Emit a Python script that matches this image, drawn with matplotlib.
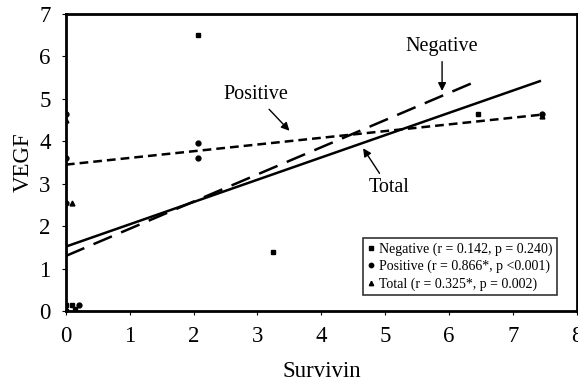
import matplotlib
matplotlib.use("Agg")
import matplotlib.pyplot as plt
import numpy as np

plt.rcParams['font.family'] = ['Liberation Serif', 'DejaVu Serif']

# Data points (Survivin, VEGF)
neg_x = [0.0, 0.0, 0.1, 0.15, 2.07, 3.25, 6.45]
neg_y = [0.0, 0.15, 0.15, 0.05, 6.5, 1.4, 4.65]
pos_x = [0.0, 0.0, 0.0, 0.2, 2.07, 2.07, 7.45]
pos_y = [3.6, 4.65, 2.55, 0.15, 3.95, 3.6, 4.65]
tot_x = [0.0, 0.0, 0.1, 0.15, 7.45]
tot_y = [0.05, 4.5, 2.55, 0.0, 4.6]

# Regression lines: intercept, slope, x-range
line_names = ["Negative", "Positive", "Total"]
intercepts = [1.30, 3.45, 1.52]
slopes = [0.64, 0.158, 0.525]
x_end = [6.4, 7.45, 7.42]
line_styles = [(0, (8, 4)), (0, (3.5, 2)), '-']

legend_labels = ["Negative (r = 0.142, p = 0.240)",
                 "Positive (r = 0.866*, p <0.001)",
                 "Total (r = 0.325*, p = 0.002)"]

fig = plt.figure(figsize=(5.78, 3.86), dpi=100)
ax = fig.add_axes([0.114, 0.194, 0.884, 0.770])

ax.plot(neg_x, neg_y, 's', color='black', ms=3, label=legend_labels[0])
ax.plot(pos_x, pos_y, 'o', color='black', ms=3.5, label=legend_labels[1])
ax.plot(tot_x, tot_y, '^', color='black', ms=3.5, label=legend_labels[2])

for b, m, xe, ls in zip(intercepts, slopes, x_end, line_styles):
    xs = np.array([0.0, xe])
    ax.plot(xs, b + m * xs, color='black', lw=1.8, linestyle=ls)

ap = dict(arrowstyle='-|>', color='black', lw=1.0, mutation_scale=12)
ax.annotate("Negative", xy=(5.89, 5.12), xytext=(5.89, 6.23),
            ha='center', va='center', fontsize=14.5, arrowprops=ap)
ax.annotate("Positive", xy=(3.53, 4.20), xytext=(2.97, 5.09),
            ha='center', va='center', fontsize=14.5, arrowprops=ap)
ax.annotate("Total", xy=(4.63, 3.89), xytext=(5.06, 2.90),
            ha='center', va='center', fontsize=14.5, arrowprops=ap)

ax.set_xlim(0, 8)
ax.set_ylim(0, 7)
ax.set_xticks(range(0, 9))
ax.set_yticks(range(0, 8))
ax.tick_params(labelsize=16.5, length=3, width=0.8, direction='out', pad=8)
ax.set_xlabel("Survivin", fontsize=16.5, labelpad=10)
ax.set_ylabel("VEGF", fontsize=16.5, labelpad=4)
for s in ax.spines.values():
    s.set_linewidth(2)

leg = ax.legend(loc='lower right', fontsize=10, frameon=True, fancybox=False,
                edgecolor='black', handlelength=0.6, handletextpad=0.3,
                borderpad=0.3, labelspacing=0.3, markerscale=0.9,
                bbox_to_anchor=(0.975, 0.03))
leg.get_frame().set_linewidth(1.2)

fig.savefig("out.png", dpi=100)
